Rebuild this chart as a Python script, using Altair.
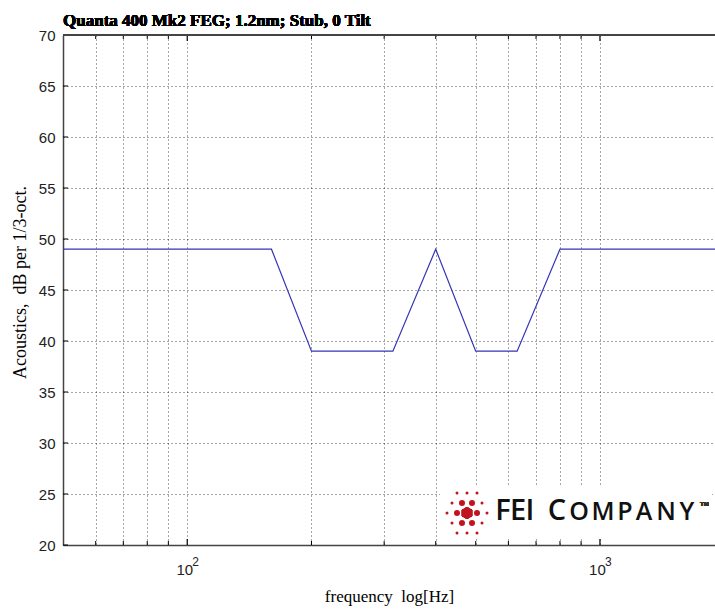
import altair as alt
import pandas as pd

# 1/3-octave band centre frequencies and acoustic limit levels
freqs = [50, 63, 80, 100, 125, 160, 200, 250, 315, 400, 500, 630, 800, 1000, 1250, 1600, 2000]
levels = [49, 49, 49, 49, 49, 49, 39, 39, 39, 49, 39, 39, 49, 49, 49, 49, 49]

x_grid = [60, 70, 80, 90, 100, 200, 300, 400, 500, 600, 700, 800, 900, 1000]
x_major = [100, 1000]
x_minor = [60, 70, 80, 90, 200, 300, 400, 500, 600, 700, 800, 900]
x_exp = ["2", "3"]
y_ticks = [20, 25, 30, 35, 40, 45, 50, 55, 60, 65, 70]

title_text = "Quanta 400 Mk2 FEG; 1.2nm; Stub, 0 Tilt"
x_title = "frequency\u00a0\u00a0log[Hz]"
y_title = "Acoustics,\u00a0\u00a0dB per 1/3-oct."

# logo (decoration): letters and dot pattern, in pixel offsets
logo_big_letters = ["F", "E", "I", "C"]
logo_big_x = [503, 518, 530, 557]
logo_small_letters = ["O", "M", "P", "A", "N", "Y"]
logo_small_x = [579, 603, 625, 644, 666, 687]
dot_x = [457, 467, 477, 452, 462, 472, 482, 447, 457, 477, 487, 452, 462, 472, 482, 457, 467, 477]
dot_y = [493, 493, 493, 503, 503, 503, 503, 513, 513, 513, 513, 523, 523, 523, 523, 533, 533, 533]
dot_s = [9, 9, 9, 9, 36, 36, 9, 9, 36, 36, 9, 9, 36, 36, 9, 9, 9, 9]

W, H = 652, 510
L, T = 63, 35
LINE_COLOR = "#3535b5"
LOGO_RED = "#c0141e"

df = pd.DataFrame({"f": freqs, "v": levels})
xs = alt.Scale(type="log", domain=[50, 1900], nice=False)
ys = alt.Scale(domain=[20, 70], nice=False)

x_axis = alt.Axis(
    values=x_grid, grid=True, gridDash=[1, 3], gridColor="#000", gridOpacity=0.7,
    ticks=False, domain=True, domainColor="#444", domainWidth=1.5,
    labelExpr="datum.value == 100 || datum.value == 1000 ? '10' : ''",
    labelFont="Liberation Sans", labelFontSize=15, labelColor="#222",
    labelPadding=17, labelOffset=-3, labelFlush=False, labelOverlap=False,
    title=x_title, titleFont="Liberation Serif", titleFontSize=17,
    titleFontWeight="normal", titleColor="#000",
    titleX=326, titleY=56, titleBaseline="alphabetic", titleAnchor="start", titleAlign="center",
)
y_axis = alt.Axis(
    values=y_ticks, grid=True, gridDash=[1, 3], gridColor="#000", gridOpacity=0.7,
    ticks=False, domain=True, domainColor="#444", domainWidth=1.5,
    labelFont="Liberation Sans", labelFontSize=15, labelColor="#222", labelPadding=8,
    title=y_title, titleFont="Liberation Serif", titleFontSize=18,
    titleFontWeight="normal", titleColor="#000", titleAngle=-90,
    titleX=-38, titleY=247, titleBaseline="alphabetic", titleAlign="center", titleAnchor="start",
)

line = alt.Chart(df).mark_line(color=LINE_COLOR, strokeWidth=1.2, clip=True).encode(
    x=alt.X("f:Q", scale=xs, axis=x_axis),
    y=alt.Y("v:Q", scale=ys, axis=y_axis),
)

maj = pd.DataFrame({"f": x_major, "e": x_exp})
mnr = pd.DataFrame({"f": x_minor})
yt = pd.DataFrame({"v": y_ticks})

maj_bot = alt.Chart(maj).mark_rule(color="#000", strokeWidth=1.2).encode(
    x="f:Q", y=alt.value(H), y2=alt.value(H - 6))
maj_top = alt.Chart(maj).mark_rule(color="#000", strokeWidth=1.2).encode(
    x="f:Q", y=alt.value(0), y2=alt.value(6))
min_bot = alt.Chart(mnr).mark_rule(color="#000", strokeWidth=1).encode(
    x="f:Q", y=alt.value(H), y2=alt.value(H - 4))
min_top = alt.Chart(mnr).mark_rule(color="#000", strokeWidth=1).encode(
    x="f:Q", y=alt.value(0), y2=alt.value(4))
y_tk = alt.Chart(yt).mark_rule(color="#000", strokeWidth=1).encode(
    y="v:Q", x=alt.value(0), x2=alt.value(5))
top_border = alt.Chart(yt).mark_rule(color="#444", strokeWidth=1.5).encode(
    x=alt.value(0), x2=alt.value(W), y=alt.value(0))

exps = alt.Chart(maj).mark_text(
    font="Liberation Sans", fontSize=12, color="#222", align="left", baseline="alphabetic",
    dx=5).encode(x="f:Q", y=alt.value(566 - T), text="e:N")

title = alt.Chart(yt).mark_text(
    text=title_text, font="Liberation Serif", fontSize=17, fontWeight="bold",
    color="#000", align="left", baseline="alphabetic").encode(
    x=alt.value(0), y=alt.value(26 - T))

# logo
logo_bg = alt.Chart(yt).mark_rect(color="white").encode(
    x=alt.value(440 - L), x2=alt.value(712 - L), y=alt.value(485 - T), y2=alt.value(538 - T))
big = pd.DataFrame({"t": logo_big_letters, "px": [p - L for p in logo_big_x]})
small = pd.DataFrame({"t": logo_small_letters, "px": [p - L for p in logo_small_x]})
big_txt = alt.Chart(big).mark_text(
    font="Open Sans", fontSize=29, fontWeight=600, color="#111", align="center",
    baseline="alphabetic").encode(
    x=alt.X("px:Q", scale=None), y=alt.value(520 - T), text="t:N")
small_txt = alt.Chart(small).mark_text(
    font="Open Sans", fontSize=25, fontWeight=600, color="#111", align="center",
    baseline="alphabetic").encode(
    x=alt.X("px:Q", scale=None), y=alt.value(520 - T), text="t:N")
tm = alt.Chart(yt).mark_text(
    text="TM", font="Liberation Sans", fontSize=6, fontWeight="bold", color="#333",
    align="left", baseline="top").encode(
    x=alt.value(700 - L), y=alt.value(501 - T))
dots = pd.DataFrame({"px": [p - L for p in dot_x], "py": [p - T for p in dot_y], "s": dot_s})
dot_layer = alt.Chart(dots).mark_circle(color=LOGO_RED, opacity=1).encode(
    x=alt.X("px:Q", scale=None), y=alt.Y("py:Q", scale=None), size=alt.Size("s:Q", scale=None))
hexa = alt.Chart(yt).mark_point(
    shape="M0,-1L0.866,-0.5L0.866,0.5L0,1L-0.866,0.5L-0.866,-0.5Z",
    filled=True, color=LOGO_RED, opacity=1, size=140).encode(
    x=alt.value(467 - L), y=alt.value(513 - T))

chart = alt.layer(
    line, maj_bot, maj_top, min_bot, min_top, y_tk, top_border, exps, title,
    logo_bg, big_txt, small_txt, tm, dot_layer, hexa,
).properties(
    width=W, height=H,
    padding={"left": L, "top": T, "right": 0, "bottom": 610 - T - H},
    autosize="none", background="white",
).configure_view(stroke=None)

chart.save("out.html", embed_options={"renderer": "svg", "actions": False})
